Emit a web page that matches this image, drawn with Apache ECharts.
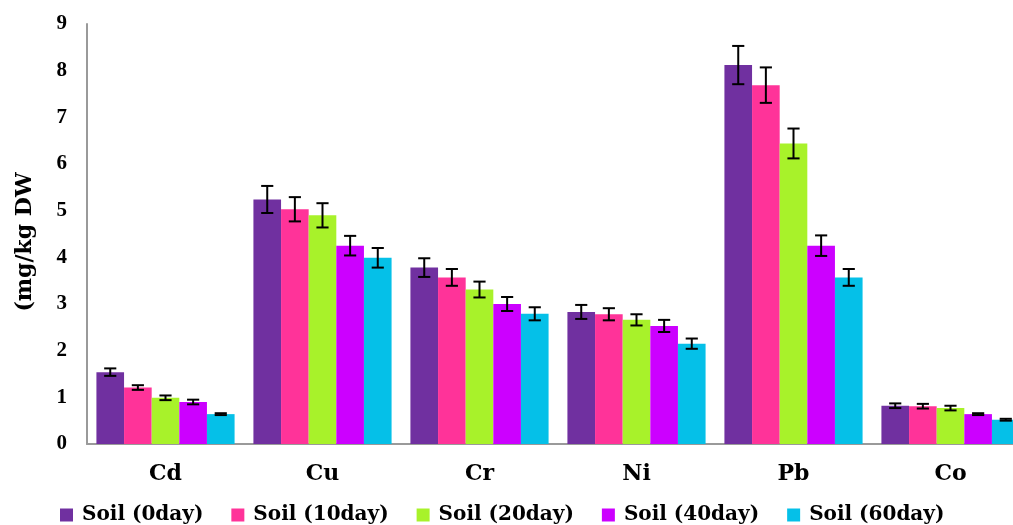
<!DOCTYPE html>
<html>
<head>
<meta charset="utf-8">
<script src="https://cdn.jsdelivr.net/npm/echarts@6/dist/echarts.min.js"></script>
<style>
  html, body { margin: 0; padding: 0; background: #fff; }
  #chart { width: 1013px; height: 525px; }
</style>
</head>
<body>
<div id="chart"></div>
<script>
// Heavy metal content in soil over time (mg/kg DW), mean ± error
const categories = ['Cd', 'Cu', 'Cr', 'Ni', 'Pb', 'Co'];
const seriesNames = ['Soil (0day)', 'Soil (10day)', 'Soil (20day)', 'Soil (40day)', 'Soil (60day)'];
const yTicks = [0, 1, 2, 3, 4, 5, 6, 7, 8, 9];
const yAxisTitle = '(mg/kg DW';

const soil0  = [1.54, 5.24, 3.78, 2.83, 8.12, 0.82];
const soil10 = [1.21, 5.03, 3.57, 2.78, 7.69, 0.81];
const soil20 = [0.99, 4.90, 3.31, 2.66, 6.44, 0.77];
const soil40 = [0.90, 4.25, 3.00, 2.53, 4.25, 0.64];
const soil60 = [0.64, 3.99, 2.79, 2.15, 3.57, 0.52];

const err0  = [0.08, 0.29, 0.20, 0.15, 0.41, 0.05];
const err10 = [0.05, 0.26, 0.18, 0.13, 0.38, 0.05];
const err20 = [0.05, 0.26, 0.17, 0.12, 0.32, 0.05];
const err40 = [0.05, 0.21, 0.15, 0.13, 0.22, 0.02];
const err60 = [0.02, 0.21, 0.14, 0.11, 0.18, 0.02];

const colors = ['#7030A0', '#FF3399', '#A8F22A', '#CC00FF', '#05C0E8'];
const values = [soil0, soil10, soil20, soil40, soil60];
const errors = [err0, err10, err20, err40, err60];

const GAP = 0.12; // barCategoryGap fraction
const serif = '"DejaVu Serif", "Liberation Serif", serif';
const tnr = '"Liberation Serif", "DejaVu Serif", serif';

const barSeries = values.map((vals, i) => ({
  name: seriesNames[i],
  type: 'bar',
  data: vals,
  barGap: '0%',
  barCategoryGap: (GAP * 100) + '%',
  itemStyle: { color: colors[i] },
  emphasis: { disabled: true }
}));

// Error bars drawn at the centre of each bar in the group
const errSeries = errors.map((errs, i) => ({
  type: 'custom',
  silent: true,
  z: 10,
  data: errs.map((e, k) => [k, values[i][k] - e, values[i][k] + e]),
  encode: { x: 0, y: [1, 2] },
  renderItem: function (params, api) {
    const k = api.value(0);
    const lo = api.coord([k, api.value(1)]);
    const hi = api.coord([k, api.value(2)]);
    const band = api.size([1, 0])[0];
    const groupW = band * (1 - GAP);
    const barW = groupW / values.length;
    const x = lo[0] - groupW / 2 + barW * (i + 0.5);
    const cap = barW * 0.22;
    const style = { stroke: '#000', lineWidth: 2 };
    return {
      type: 'group',
      children: [
        { type: 'line', shape: { x1: x, y1: lo[1], x2: x, y2: hi[1] }, style },
        { type: 'line', shape: { x1: x - cap, y1: lo[1], x2: x + cap, y2: lo[1] }, style },
        { type: 'line', shape: { x1: x - cap, y1: hi[1], x2: x + cap, y2: hi[1] }, style }
      ]
    };
  }
}));

const chart = echarts.init(document.getElementById('chart'), null, { renderer: 'canvas' });
chart.setOption({
  animation: false,
  backgroundColor: '#fff',
  grid: { left: 87, top: 24, bottom: 81, width: 942, containLabel: false, outerBoundsMode: 'none' },
  legend: {
    data: seriesNames,
    left: 55,
    top: 500,
    icon: 'rect',
    itemWidth: 13,
    itemHeight: 13,
    itemGap: 28,
    textStyle: { fontFamily: serif, fontWeight: 'bold', fontSize: 20, color: '#000', padding: [0, 0, 0, 4] }
  },
  graphic: [{
    type: 'text',
    x: 25,
    y: 242,
    rotation: Math.PI / 2,
    style: {
      text: yAxisTitle,
      fontFamily: serif,
      fontWeight: 'bold',
      fontSize: 22,
      fill: '#000',
      align: 'center',
      verticalAlign: 'middle'
    }
  }],
  xAxis: {
    type: 'category',
    data: categories,
    axisLine: { lineStyle: { color: '#9a9a9a', width: 2 } },
    axisTick: { show: false },
    axisLabel: { margin: 19, fontFamily: serif, fontWeight: 'bold', fontSize: 22, color: '#000' }
  },
  yAxis: {
    type: 'value',
    min: yTicks[0],
    max: yTicks[yTicks.length - 1],
    interval: 1,
    axisLine: { show: true, lineStyle: { color: '#9a9a9a', width: 2 } },
    axisTick: { show: false },
    splitLine: { show: false },
    axisLabel: { margin: 20, fontFamily: tnr, fontWeight: 'bold', fontSize: 21, color: '#000' }
  },
  series: [...barSeries, ...errSeries]
});
</script>
</body>
</html>
